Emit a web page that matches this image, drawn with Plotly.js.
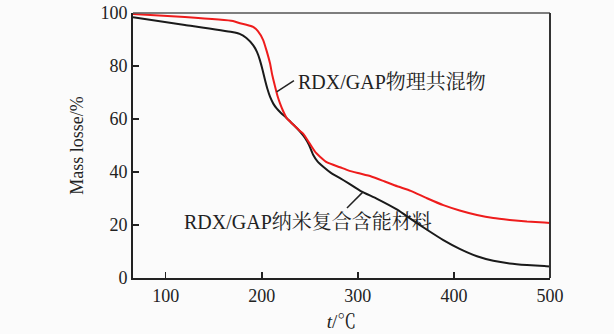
<!DOCTYPE html>
<html><head><meta charset="utf-8">
<script src="https://cdn.plot.ly/plotly-3.0.1.min.js"></script>
<style>html,body{margin:0;padding:0;background:#fbfbfb;}</style>
</head><body>
<div id="chart" style="width:614px;height:334px;"></div>
<script>
// Nano composite (black)
const tNano = [66, 120, 169, 177, 184, 191, 195, 198, 201, 203.4, 206, 208.6, 212, 215.5, 220, 226, 233, 240, 245, 249, 253.6, 258, 264, 272, 281, 290, 303, 320, 341, 355, 372, 389, 406, 424, 441, 458, 476, 494, 500];
const mNano = [98.4, 95.5, 92.8, 92.1, 90.6, 87.9, 85.3, 82.3, 78.3, 74.7, 71.2, 68.4, 65.8, 64.0, 62.3, 60.3, 57.8, 55.2, 52.9, 50.4, 46.4, 44.0, 42.0, 39.7, 37.8, 35.8, 32.8, 29.9, 25.8, 22.3, 18.2, 14.3, 11.0, 8.2, 6.5, 5.5, 4.9, 4.5, 4.3];
// Physical mixture (red)
const tMix = [66, 120, 170, 177.4, 184, 191, 196, 201.5, 205, 208.6, 211, 213.9, 216.5, 219, 222, 226, 233, 240, 243.3, 248, 251.9, 256, 260.6, 268, 281.4, 290, 300, 314, 328, 341, 355, 372, 389, 406, 424, 441, 458, 476, 494, 500];
const mMix = [99.6, 98.5, 97.0, 96.1, 95.6, 94.8, 93.2, 89.8, 85.8, 81.0, 76.5, 72.2, 68.6, 65.9, 63.2, 60.3, 57.8, 55.4, 54.4, 51.8, 49.6, 47.4, 45.8, 43.6, 41.8, 40.6, 39.6, 38.3, 36.4, 34.6, 32.9, 30.1, 27.5, 25.5, 23.8, 22.6, 21.9, 21.3, 20.9, 20.8];
const xTicks = [100, 200, 300, 400, 500];
const yTicks = [0, 20, 40, 60, 80, 100];
const labelMix = 'RDX/GAP物理共混物';
const labelNano = 'RDX/GAP纳米复合含能材料';

const serif = 'Liberation Serif, Noto Serif CJK SC, Noto Sans CJK SC, serif';

const traces = [
  {x: tNano, y: mNano, mode: 'lines', line: {color: '#1a1a1a', width: 2, shape: 'spline', smoothing: 0.5}, hoverinfo: 'skip'},
  {x: tMix, y: mMix, mode: 'lines', line: {color: '#ee1c1c', width: 2, shape: 'spline', smoothing: 0.5}, hoverinfo: 'skip'}
];

const layout = {
  width: 614, height: 334,
  margin: {l: 133, r: 64, t: 13, b: 56},
  paper_bgcolor: '#fbfbfb', plot_bgcolor: '#fbfbfb',
  showlegend: false,
  font: {family: serif, color: '#222', size: 18},
  xaxis: {
    range: [66, 500], tickvals: xTicks, ticktext: xTicks.map(String),
    ticks: 'inside', ticklen: 6, tickwidth: 1.5, tickcolor: '#222',
    showline: true, linewidth: 2, linecolor: '#222', showgrid: false, zeroline: false,
    tickfont: {size: 18, family: serif},
    title: {text: '<i>t</i>/℃', font: {size: 19, family: serif}, standoff: 10}
  },
  yaxis: {
    range: [0, 100], tickvals: yTicks, ticktext: yTicks.map(String),
    ticks: 'inside', ticklen: 6, tickwidth: 1.5, tickcolor: '#222',
    showline: true, linewidth: 2, linecolor: '#222', showgrid: false, zeroline: false,
    tickfont: {size: 18, family: serif},
    title: {text: 'Mass losse/%', font: {size: 18, family: serif}, standoff: 12}
  },
  shapes: [
    {type: 'line', xref: 'paper', yref: 'paper', x0: 0, x1: 1, y0: 1, y1: 1, line: {color: '#555', width: 1.5}},
    {type: 'line', xref: 'paper', yref: 'paper', x0: 1, x1: 1, y0: 0, y1: 1, line: {color: '#333', width: 2}},
    {type: 'line', xref: 'x', yref: 'y', x0: 215.5, y0: 70.2, x1: 233.5, y1: 74.5, line: {color: '#222', width: 1.5}},
    {type: 'line', xref: 'x', yref: 'y', x0: 288.7, y0: 26.4, x1: 305.4, y1: 32.5, line: {color: '#222', width: 1.5}}
  ],
  annotations: [
    {x: 235.5, y: 73.9, xref: 'x', yref: 'y', text: labelMix, showarrow: false, xanchor: 'left', yanchor: 'middle', font: {size: 20, family: serif, color: '#222'}},
    {x: 117.5, y: 21.2, xref: 'x', yref: 'y', text: labelNano, showarrow: false, xanchor: 'left', yanchor: 'middle', font: {size: 20, family: serif, color: '#222'}}
  ]
};

Plotly.newPlot('chart', traces, layout, {staticPlot: true, displayModeBar: false});
</script>
</body></html>
